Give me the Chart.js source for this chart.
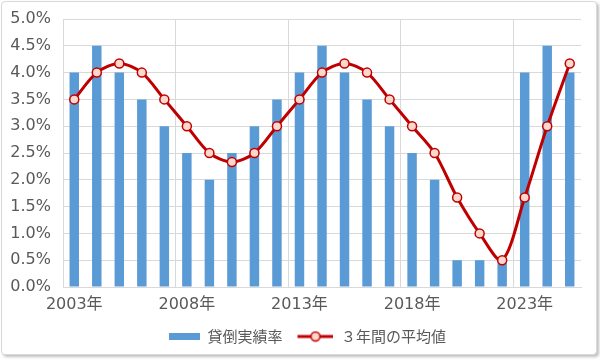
<!DOCTYPE html>
<html><head><meta charset="utf-8">
<script src="https://cdn.jsdelivr.net/npm/chart.js@4"></script>
<style>
html,body{margin:0;padding:0;background:#fff}
#frame{position:absolute;left:1px;top:1px;width:594px;height:352px;border:1px solid #d9d9d9;border-radius:4px;box-shadow:2px 2px 3px rgba(0,0,0,0.25);overflow:hidden;background:#fff}
#c{position:absolute;left:0;top:0}
</style></head>
<body>
<div id="frame"><canvas id="c" width="594" height="352"></canvas></div>
<script>
const categories = ['2003年','2004年','2005年','2006年','2007年','2008年','2009年','2010年','2011年','2012年','2013年','2014年','2015年','2016年','2017年','2018年','2019年','2020年','2021年','2022年','2023年','2024年','2025年'];
const loanLossRate = [4.0,4.5,4.0,3.5,3.0,2.5,2.0,2.5,3.0,3.5,4.0,4.5,4.0,3.5,3.0,2.5,2.0,0.5,0.5,0.5,4.0,4.5,4.0];
const avg3yr = [3.5,4.0,4.17,4.0,3.5,3.0,2.5,2.33,2.5,3.0,3.5,4.0,4.17,4.0,3.5,3.0,2.5,1.67,1.0,0.5,1.67,3.0,4.17];
const seriesNames = ['貸倒実績率','３年間の平均値'];
const yMin = 0, yMax = 5, yStep = 0.5;

const BLUE = '#5b9bd5', RED = '#c00000', PINK = '#fcd8cc', GRID = '#d9d9d9', TXT = '#595959';
const TICKFONT = "'DejaVu Sans','Noto Sans CJK JP',sans-serif";
const FONT = "'Noto Sans CJK JP','Noto Sans',sans-serif";
const ICON_W = 48;

function barIcon(){const c=document.createElement('canvas');c.width=ICON_W;c.height=7;const x=c.getContext('2d');x.fillStyle=BLUE;x.fillRect(ICON_W-31,0,31,7);return c;}
function lineIcon(){const c=document.createElement('canvas');c.width=ICON_W;c.height=12;const x=c.getContext('2d');const s=ICON_W-36;x.strokeStyle=RED;x.lineWidth=3;x.beginPath();x.moveTo(s,6);x.lineTo(ICON_W,6);x.stroke();x.beginPath();x.arc(s+18,6,4.5,0,Math.PI*2);x.fillStyle=PINK;x.fill();x.lineWidth=1.5;x.stroke();return c;}
const icons=[barIcon(), lineIcon()];

new Chart(document.getElementById('c'), {
  data: {
    labels: categories,
    datasets: [
      {type:'line', label: seriesNames[1], data: avg3yr, order:0, borderColor: RED, borderWidth: 3, tension: 0.3,
       pointRadius: 4.5, pointBackgroundColor: PINK, pointBorderColor: RED, pointBorderWidth: 1.5, fill:false},
      {type:'bar', label: seriesNames[0], data: loanLossRate, order:1, backgroundColor: BLUE, barPercentage: 0.42, categoryPercentage: 1.0}
    ]
  },
  options: {
    responsive:false, animation:false,
    layout:{padding:{left:0,right:0,top:17,bottom:0}},
    scales:{
      x:{offset:true,
         grid:{offset:true, color: ctx => (ctx.index % 5 === 0 && ctx.index < categories.length) ? GRID : 'rgba(0,0,0,0)', drawTicks:false},
         border:{color:GRID},
         ticks:{autoSkip:false, maxRotation:0, color:TXT, font:{family:TICKFONT,size:16}, padding:8,
                callback:(v,i)=> i%5===0 ? categories[i] : ''},
         afterFit: s => { s.height = 39; s.paddingLeft = 0; s.paddingRight = 15; }
      },
      y:{min:yMin,max:yMax,
         grid:{color:GRID, drawTicks:false},
         border:{color:GRID},
         ticks:{stepSize:yStep, color:TXT, font:{family:TICKFONT,size:16}, padding:12,
                callback:v=> v.toFixed(1)+'%'},
         afterFit: s => { s.width = 61; s.paddingTop = 0; s.paddingBottom = 0; }
      }
    },
    plugins:{
      tooltip:{enabled:false},
      legend:{position:'bottom',
        labels:{usePointStyle:true, pointStyleWidth:ICON_W, color:TXT, font:{family:FONT,size:15}, padding:3,
          generateLabels: chart => {
            const items = Chart.defaults.plugins.legend.labels.generateLabels(chart);
            items.forEach(it => { it.pointStyle = it.datasetIndex === 1 ? icons[0] : icons[1]; });
            items.sort((a,b)=> b.datasetIndex - a.datasetIndex);
            return items;
          }}
      }
    }
  }
});
</script>
</body></html>
